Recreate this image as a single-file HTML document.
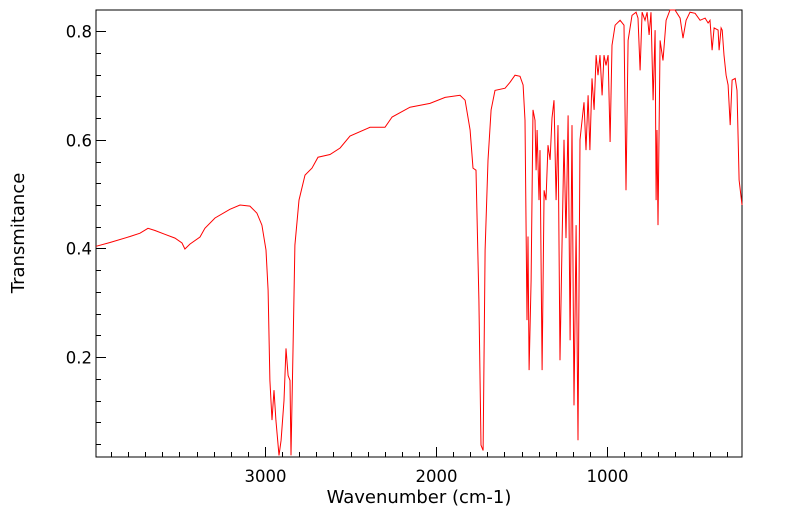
<!DOCTYPE html>
<html><head><meta charset="utf-8"><style>
body{margin:0;background:#fff;}
svg text{font-family:"DejaVu Sans","Liberation Sans",sans-serif;fill:#000;}
</style></head><body>
<svg id="chart" width="799" height="516" xmlns="http://www.w3.org/2000/svg">
<rect x="96" y="10" width="646" height="447" fill="none" stroke="#000" stroke-width="1"/>
<g id="ticks"></g>
<path id="line" fill="none" stroke="#ff0000" stroke-width="1"/>
<text x="419" y="503" font-size="18" text-anchor="middle">Wavenumber (cm-1)</text>
<text transform="translate(24,233) rotate(-90)" font-size="18" text-anchor="middle">Transmitance</text>
</svg>
<script>
const wavenumbers=[3988,3906,3789,3731,3684,3643,3585,3526,3485,3468,3439,3380,3351,3292,3205,3146,3088,3047,3018,2994,2982,2971,2959,2947,2936,2918,2906,2889,2877,2865,2854,2848,2836,2825,2801,2766,2725,2690,2620,2561,2503,2386,2298,2257,2152,2035,1947,1860,1830,1801,1784,1766,1749,1737,1725,1713,1696,1678,1655,1596,1567,1538,1509,1491,1480,1468,1462,1456,1444,1433,1421,1415,1409,1398,1392,1380,1368,1357,1345,1333,1322,1310,1298,1287,1275,1263,1252,1240,1228,1216,1205,1193,1181,1170,1158,1135,1123,1111,1100,1088,1076,1064,1053,1041,1029,1018,1006,994,982,971,953,924,901,889,877,854,830,819,807,795,778,766,754,743,731,719,713,708,702,690,673,655,632,603,573,556,538,515,485,456,427,409,398,386,374,351,345,333,327,316,304,292,280,269,251,240,228,211];
const transmittance=[0.404,0.411,0.422,0.428,0.437,0.433,0.426,0.419,0.410,0.399,0.408,0.421,0.437,0.456,0.472,0.480,0.478,0.465,0.443,0.397,0.323,0.157,0.084,0.139,0.084,0.019,0.047,0.120,0.216,0.166,0.157,0.019,0.212,0.406,0.489,0.535,0.548,0.568,0.573,0.585,0.607,0.623,0.623,0.642,0.660,0.667,0.678,0.682,0.673,0.618,0.548,0.544,0.305,0.038,0.028,0.397,0.562,0.655,0.691,0.695,0.706,0.719,0.717,0.701,0.636,0.268,0.422,0.176,0.341,0.655,0.636,0.544,0.618,0.489,0.581,0.176,0.507,0.489,0.590,0.563,0.640,0.673,0.489,0.627,0.194,0.415,0.600,0.419,0.645,0.231,0.627,0.111,0.443,0.047,0.600,0.669,0.581,0.682,0.581,0.713,0.655,0.756,0.719,0.756,0.682,0.756,0.737,0.756,0.596,0.774,0.811,0.820,0.811,0.507,0.783,0.829,0.835,0.824,0.728,0.835,0.820,0.835,0.793,0.835,0.673,0.802,0.489,0.618,0.443,0.783,0.746,0.820,0.839,0.839,0.824,0.787,0.820,0.835,0.833,0.820,0.824,0.815,0.820,0.765,0.806,0.802,0.765,0.806,0.802,0.756,0.719,0.701,0.627,0.710,0.713,0.691,0.526,0.480];
const xMajorTicks=[1000,2000,3000];
const xMinorTicks=[300,400,500,600,700,800,900,1100,1200,1300,1400,1500,1600,1700,1800,1900,2100,2200,2300,2400,2500,2600,2700,2800,2900,3100,3200,3300,3400,3500,3600,3700,3800,3900];
const yMajorTicks=[0.2,0.4,0.6,0.8];
const yMinorTicks=[0.04,0.08,0.12,0.16,0.24,0.28,0.32,0.36,0.44,0.48,0.52,0.56,0.64,0.68,0.72,0.76];
const X0=96,X1=742,Y0=10,Y1=457,WN0=3988,WN1=211,T0=0.839,T1=0.016;
function xs(w){return X0+(WN0-w)/(WN0-WN1)*(X1-X0);}
function ys(t){return Y0+(T0-t)/(T0-T1)*(Y1-Y0);}
const NS="http://www.w3.org/2000/svg";
const g=document.getElementById('ticks');
function ln(x1,y1,x2,y2,name){const l=document.createElementNS(NS,'line');
l.setAttribute('x1',x1);l.setAttribute('y1',y1);l.setAttribute('x2',x2);l.setAttribute('y2',y2);
l.setAttribute('stroke','#000');l.setAttribute('stroke-width','1');


g.appendChild(l);}
function tx(x,y,s,anchor,name){const t=document.createElementNS(NS,'text');
t.setAttribute('x',x);t.setAttribute('y',y);t.setAttribute('font-size','16.5');t.setAttribute('text-anchor',anchor);t.textContent=s;


g.appendChild(t);}
xMajorTicks.forEach(v=>{const x=Math.round(xs(v))+0.5;ln(x,Y1,x,Y1-10,'x-major-tick');tx(x,482,String(v),'middle','x-tick-label');});
xMinorTicks.forEach(v=>{const x=Math.round(xs(v))+0.5;ln(x,Y1,x,Y1-5,'x-minor-tick');});
yMajorTicks.forEach(v=>{const y=Math.round(ys(v))+0.5;ln(X0,y,X0+10,y,'y-major-tick');tx(92,y+6,v.toFixed(1),'end','y-tick-label');});
yMinorTicks.forEach(v=>{const y=Math.round(ys(v))+0.5;ln(X0,y,X0+5,y,'y-minor-tick');});
let d='';
wavenumbers.forEach((w,i)=>{d+=(i?'L':'M')+xs(w).toFixed(1)+','+ys(transmittance[i]).toFixed(1);});
document.getElementById('line').setAttribute('d',d);
</script>
</body></html>
